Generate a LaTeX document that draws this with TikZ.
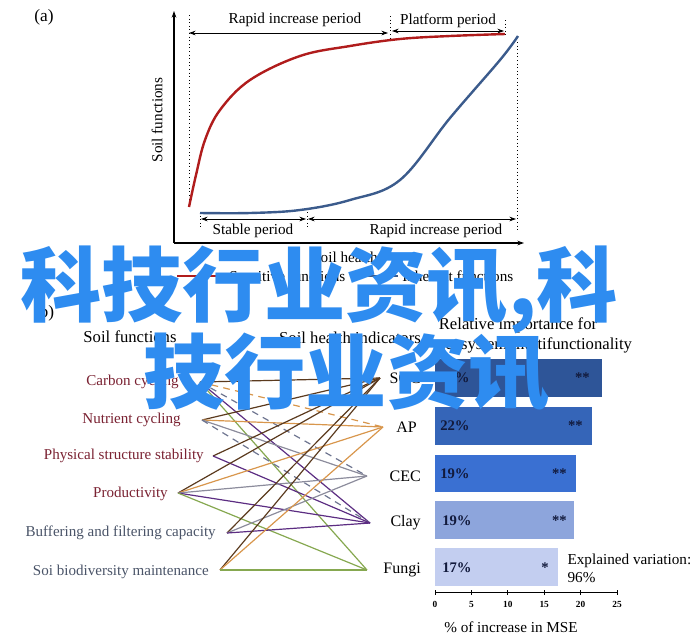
\documentclass[tikz,border=0pt]{standalone}
\usepackage{fontspec}
\setmainfont{Liberation Serif}
\newfontfamily\cjkfont{Noto Sans CJK SC}
\usetikzlibrary{arrows.meta,positioning}

\definecolor{sensred}{HTML}{B01C1C}
\definecolor{inhblue}{HTML}{3B5B8C}
\definecolor{fnred}{HTML}{7A2232}
\definecolor{fngray}{HTML}{4A5468}
\definecolor{socc}{HTML}{5B3A1E}
\definecolor{apc}{HTML}{D8964C}
\definecolor{cecc}{HTML}{8C8C9C}
\definecolor{clayc}{HTML}{5C2D82}
\definecolor{fungic}{HTML}{86A850}
\definecolor{dashc}{HTML}{6E7590}
\definecolor{barsoc}{HTML}{2E5598}
\definecolor{barap}{HTML}{3565B8}
\definecolor{barcec}{HTML}{3A70D2}
\definecolor{barclay}{HTML}{8DA5DC}
\definecolor{barfungi}{HTML}{C3CEF0}
\definecolor{pctc}{HTML}{121A3C}
\definecolor{markc}{HTML}{2E8CF0}

\tikzstyle{dim}=[draw, {Stealth[length=5pt,width=3.5pt]}-{Stealth[length=5pt,width=3.5pt]}, line width=0.6pt]
\tikzstyle{guide}=[draw, dotted, line width=0.7pt]
\tikzstyle{axis}=[draw, -{Stealth[length=5pt,width=3.5pt]}, line width=0.9pt]
\tikzstyle{sens}=[draw=sensred, line width=1.8pt]
\tikzstyle{inh}=[draw=inhblue, line width=1.8pt]
\tikzstyle{lbl}=[font=\fontsize{11.4}{13}\selectfont, inner sep=1pt]
\tikzstyle{head}=[font=\fontsize{12.5}{14}\selectfont, inner sep=1pt]
\tikzstyle{panel}=[font=\fontsize{13}{15}\selectfont, inner sep=1pt]
\tikzstyle{fn}=[anchor=east, text=fnred, font=\fontsize{11.3}{13}\selectfont, inner sep=0pt]
\tikzstyle{fnb}=[fn, text=fngray]
\tikzstyle{ind}=[anchor=east, font=\fontsize{12}{14}\selectfont, inner sep=0pt]
\tikzstyle{pct}=[anchor=west, text=pctc, font=\bfseries\fontsize{11}{13}\selectfont, inner sep=0pt]
\tikzstyle{sig}=[anchor=east, text=pctc, font=\bfseries\fontsize{11}{13}\selectfont, inner sep=0pt]
\tikzstyle{tick}=[font=\bfseries\fontsize{7}{8}\selectfont, inner sep=0pt]
\tikzstyle{link}=[draw, line width=0.9pt]
\tikzstyle{dlink}=[link, dash pattern=on 5pt off 4pt]

\begin{document}
\begin{tikzpicture}[x=0.75pt, y=-0.75pt]
\useasboundingbox (0,0) rectangle (700,640);

% (a) development curves
\node [panel] (pa) at (44,17) {(a)};
\coordinate (orig) at (174,243);
\draw [axis] (orig) -- (174,11);
\draw [axis] (orig) -- (524,243);
\node [lbl, rotate=90] (yname) at (157,120) {Soil functions};
\node [lbl] (xname) at (345,257) {Soil health};

\draw [guide] (189,15) -- (189,206);
\draw [guide] (390,16) -- (390,38);
\draw [guide] (505,20) -- (505,36);
\draw [guide] (200,212) -- (200,228);
\draw [guide] (307,212) -- (307,229);
\draw [guide] (517,42) -- (517,230);

\coordinate (risea) at (189,33);
\coordinate (riseb) at (388,33);
\coordinate (plata) at (392,31);
\coordinate (platb) at (504,31);
\coordinate (stabla) at (201,219);
\coordinate (stablb) at (306,219);
\coordinate (risec) at (308,219);
\coordinate (rised) at (516,219);
\draw [dim] (risea) -- (riseb);
\draw [dim] (plata) -- (platb);
\draw [dim] (stabla) -- (stablb);
\draw [dim] (risec) -- (rised);
\node [lbl] (risetxt) at (295,20) {Rapid increase period};
\node [lbl] (plattxt) at (448,21) {Platform period};
\node [lbl] (stabtxt) at (253,231) {Stable period};
\node [lbl] (rise2txt) at (436,231) {Rapid increase period};

\draw [sens] plot [smooth, tension=0.6] coordinates {(189,207) (196,175) (205,140) (220,110) (250,80) (300,56) (350,46) (400,39) (450,36) (505,34)};
\draw [inh] plot [smooth, tension=0.6] coordinates {(200,213) (250,213) (300,210) (350,200) (400,180) (450,118) (500,60) (518,36)};

% legend
\coordinate (sensa) at (177,276);
\coordinate (sensb) at (225,276);
\draw [sens, line width=1.2pt] (sensa) -- (sensb);
\node [lbl] (senstxt) [right=2pt of sensb] {Sensitive functions};
\coordinate (inha) at (352,276);
\coordinate (inhb) at (398,276);
\draw [inh, line width=1.2pt] (inha) -- (inhb);
\node [lbl] (inhtxt) [right=2pt of inhb] {Inherent functions};

% (b) functions and indicators
\node [panel] (pb) at (44,313) {(b)};
\node [head] (fnhead) at (130,337) {Soil functions};
\node [head] (indhead) at (350,338) {Soil health indicators};
\node [head] (relhead) at (518,325) {Relative importance for};
\node [head] (relhead2) at (535,345) {ecosystem multifunctionality};

\node [fn] (carbon) at (179,382) {Carbon cycling};
\node [fn] (nutrient) at (181,420) {Nutrient cycling};
\node [fn] (physical) at (204,456) {Physical structure stability};
\node [fn] (product) at (168,494) {Productivity};
\node [fnb] (buffer) at (216,533) {Buffering and filtering capacity};
\node [fnb] (biodiv) at (209,572) {Soi biodiversity maintenance};

\coordinate (carbonpt) at (200,382);
\coordinate (nutrientpt) at (202,420);
\coordinate (physicalpt) at (213,456);
\coordinate (productpt) at (178,493);
\coordinate (bufferpt) at (227,533);
\coordinate (biodivpt) at (220,570);

\node [ind] (soc) at (421,378) {SOC};
\node [ind] (ap) at (417,427) {AP};
\node [ind] (cec) at (421,476) {CEC};
\node [ind] (clay) at (421,523) {Clay};
\node [ind] (fungi) at (421,570) {Fungi};

\coordinate (socpt) at (380,378);
\coordinate (appt) at (383,427);
\coordinate (cecpt) at (367,476);
\coordinate (claypt) at (370,523);
\coordinate (fungipt) at (367,570);

\draw [link, socc] (carbonpt) -- (socpt);
\draw [dlink, apc] (carbonpt) -- (appt);
\draw [dlink, dashc] (carbonpt) -- (cecpt);
\draw [link, clayc] (carbonpt) -- (claypt);
\draw [link, fungic] (carbonpt) -- (fungipt);
\draw [link, socc] (nutrientpt) -- (socpt);
\draw [link, apc] (nutrientpt) -- (appt);
\draw [link, cecc] (nutrientpt) -- (cecpt);
\draw [dlink, dashc] (nutrientpt) -- (claypt);
\draw [link, socc] (physicalpt) -- (socpt);
\draw [link, clayc] (physicalpt) -- (claypt);
\draw [link, socc] (productpt) -- (socpt);
\draw [link, apc] (productpt) -- (appt);
\draw [link, cecc] (productpt) -- (cecpt);
\draw [link, clayc] (productpt) -- (claypt);
\draw [link, fungic] (productpt) -- (fungipt);
\draw [link, socc] (bufferpt) -- (socpt);
\draw [link, cecc] (bufferpt) -- (cecpt);
\draw [link, clayc] (bufferpt) -- (claypt);
\draw [link, socc] (biodivpt) -- (socpt);
\draw [link, apc] (biodivpt) -- (appt);
\draw [link, fungic] (biodivpt) -- (fungipt);

% bars
\fill [barsoc] (435,359) rectangle (602,397);
\fill [barap] (435,407) rectangle (592,445);
\fill [barcec] (435,455) rectangle (576,492);
\fill [barclay] (435,501) rectangle (574,539);
\fill [barfungi] (435,548) rectangle (558,586);
\node [pct] (socpct) at (440,378) {23\%};
\node [sig] (socsig) at (590,378) {**};
\node [pct] (appct) at (440,426) {22\%};
\node [sig] (apsig) at (583,426) {**};
\node [pct] (cecpct) at (440,474) {19\%};
\node [sig] (cecsig) at (567,474) {**};
\node [pct] (claypct) at (442,521) {19\%};
\node [sig] (claysig) at (567,521) {**};
\node [pct] (fungipct) at (442,568) {17\%};
\node [sig] (fungisig) at (549,568) {*};

\draw [line width=0.6pt] (435,592) -- (617,592);
\node [tick] (t0) at (435,604) {0};
\node [tick] (t5) at (471.4,604) {5};
\node [tick] (t10) at (507.8,604) {10};
\node [tick] (t15) at (544.2,604) {15};
\node [tick] (t20) at (580.6,604) {20};
\node [tick] (t25) at (617,604) {25};
\draw [line width=0.5pt] (435,590) -- (435,595) (471.4,590) -- (471.4,595) (507.8,590) -- (507.8,595) (544.2,590) -- (544.2,595) (580.6,590) -- (580.6,595) (617,590) -- (617,595);
\node [lbl] (mse) at (511,627) {\% of increase in MSE};
\node [lbl, anchor=west] (expl) at (566,561) {Explained variation:};
\node [lbl, anchor=west] (explv) at (566,578) {96\%};

% watermark
\node [anchor=west, inner sep=0pt, text=markc, font=\cjkfont\bfseries\fontsize{61}{61}\selectfont] (mark1) at (20,290) {科技行业资讯,科};
\node [anchor=west, inner sep=0pt, text=markc, font=\cjkfont\bfseries\fontsize{61}{61}\selectfont] (mark2) at (143,372) {技行业资讯};

\end{tikzpicture}
\end{document}
